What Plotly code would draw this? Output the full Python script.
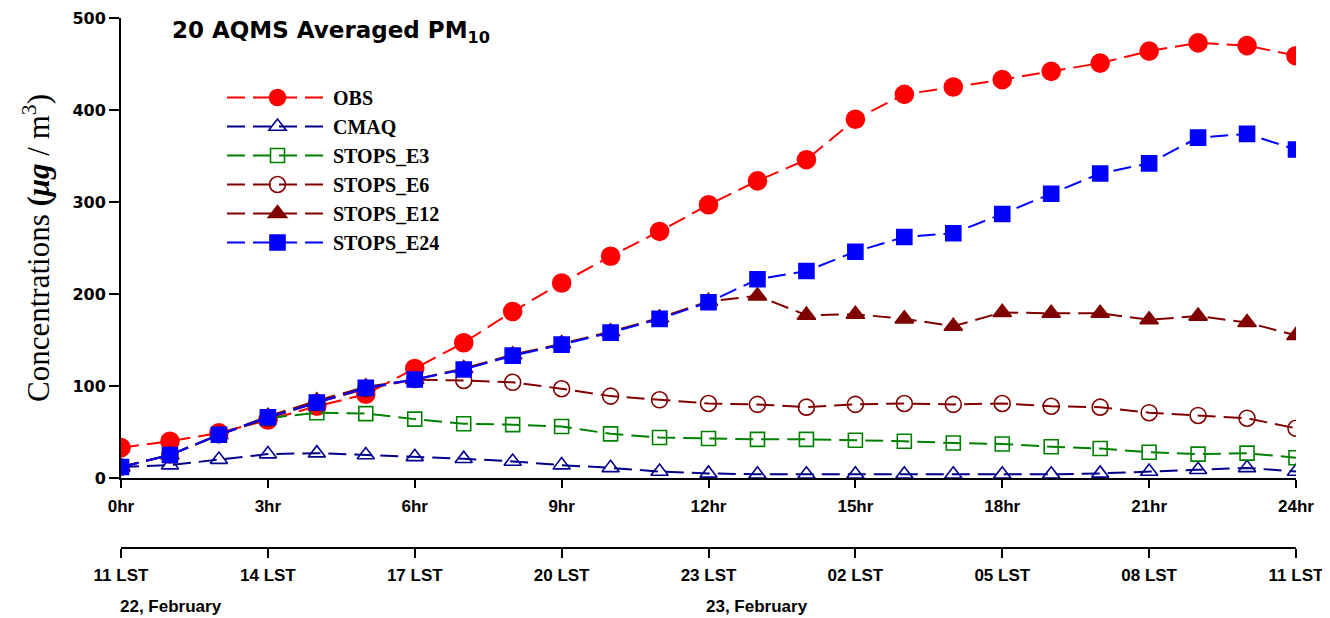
import plotly.graph_objects as go

hours = list(range(25))
obs = [33, 40, 49, 63, 78, 91, 119, 147, 181, 212, 241, 268, 297, 323, 346, 390, 417, 425, 433, 442, 451, 464, 473, 470, 459]
cmaq = [12, 14, 20, 26, 27, 25, 23, 21, 18, 14, 11, 7, 5, 4, 4, 4, 4, 4, 4, 4, 5, 7, 9, 11, 7]
e3 = [12, 25, 47, 65, 71, 70, 64, 59, 58, 56, 48, 44, 43, 42, 42, 41, 40, 38, 37, 34, 32, 28, 26, 27, 22]
e6 = [12, 25, 47, 65, 82, 97, 107, 106, 104, 97, 89, 85, 81, 80, 77, 80, 81, 80, 81, 78, 77, 71, 68, 65, 54]
e12 = [12, 25, 47, 67, 84, 99, 107, 119, 134, 146, 159, 174, 192, 198, 177, 178, 173, 165, 180, 179, 179, 172, 176, 169, 155]
e24 = [12, 25, 47, 66, 82, 98, 107, 118, 133, 145, 158, 173, 191, 216, 225, 246, 262, 266, 287, 309, 331, 342, 370, 374, 357]

hr_ticks = [0, 3, 6, 9, 12, 15, 18, 21, 24]
hr_labels = ["0hr", "3hr", "6hr", "9hr", "12hr", "15hr", "18hr", "21hr", "24hr"]
lst_labels = ["11 LST", "14 LST", "17 LST", "20 LST", "23 LST", "02 LST", "05 LST", "08 LST", "11 LST"]
y_ticks = [0, 100, 200, 300, 400, 500]

series = [
    ("OBS", obs, "#FF0000", "circle", 18),
    ("CMAQ", cmaq, "#00008B", "triangle-up-open", 15),
    ("STOPS_E3", e3, "#008000", "square-open", 14),
    ("STOPS_E6", e6, "#800000", "circle-open", 16),
    ("STOPS_E12", e12, "#800000", "triangle-up", 16),
    ("STOPS_E24", e24, "#0000FF", "square", 15),
]

fig = go.Figure()
for name, vals, col, sym, size in series:
    fig.add_trace(go.Scatter(
        x=hours, y=vals, name=name, mode="lines+markers",
        line=dict(color=col, width=2, dash="18px,8px"),
        marker=dict(symbol=sym, size=size, color=col,
                    line=dict(color=col, width=1.6)),
    ))

# invisible trace on the secondary (LST) axis
fig.add_trace(go.Scatter(x=hours, y=obs, xaxis="x2", yaxis="y", mode="lines",
                         line=dict(width=0), opacity=0, showlegend=False,
                         hoverinfo="skip"))

sans = "Liberation Sans, Arial, sans-serif"
serif = "Liberation Serif, Times New Roman, serif"

OFF = 8  # page offset of the figure in the browser
W, H = 1322, 610
L, R, T, B = 121 - OFF, 34, 18 - OFF, 10
pw = W - L - R
ph = H - T - B


def px_x(v):
    return (v - OFF - L) / pw


def px_y(v):
    return (H - B - (v - OFF)) / ph


fig.update_layout(
    width=W, height=H,
    margin=dict(l=L, r=R, t=T, b=B, autoexpand=False),
    paper_bgcolor="white", plot_bgcolor="white",
    showlegend=True,
    legend=dict(x=px_x(222), y=px_y(78), xanchor="left", yanchor="top",
                font=dict(family=serif, size=20, color="black", weight="bold"),
                bgcolor="rgba(0,0,0,0)", itemwidth=101, tracegroupgap=0),
    xaxis=dict(range=[0, 24], tickvals=hr_ticks, ticktext=hr_labels,
               showline=True, linecolor="black", linewidth=2,
               ticks="outside", ticklen=8, tickwidth=2, tickcolor="black",
               showgrid=False, zeroline=False, anchor="y", automargin=False,
               tickfont=dict(family=sans, size=17, color="black", weight="bold"),
               ticklabelstandoff=4),
    xaxis2=dict(range=[0, 24], tickvals=hr_ticks, ticktext=lst_labels,
                overlaying="x", anchor="free", position=px_y(548), side="bottom",
                showline=True, linecolor="black", linewidth=2,
                ticks="outside", ticklen=9, tickwidth=2, tickcolor="black",
                showgrid=False, zeroline=False, automargin=False,
                tickfont=dict(family=sans, size=17, color="black", weight="bold"),
                ticklabelstandoff=3),
    yaxis=dict(range=[0, 500], tickvals=y_ticks, domain=[px_y(478), 1],
               showline=True, linecolor="black", linewidth=2,
               ticks="outside", ticklen=10, tickwidth=2, tickcolor="black",
               showgrid=False, zeroline=False, automargin=False,
               tickfont=dict(family="DejaVu Sans, sans-serif", size=16, color="black", weight="bold"),
               title=dict(text="Concentrations <b>(<i>μg</i></b> / m<sup>3</sup>)",
                          font=dict(family=serif, size=31, color="black"),
                          standoff=14)),
    annotations=[
        dict(text="<b>20 AQMS Averaged PM<sub>10</sub></b>", xref="paper", yref="paper",
             x=px_x(170), y=px_y(32), xanchor="left", yanchor="middle", showarrow=False,
             font=dict(family="DejaVu Sans, sans-serif", size=23, color="black")),
        dict(text="<b>22, February</b>", xref="paper", yref="paper",
             x=px_x(118), y=px_y(606), xanchor="left", yanchor="middle", showarrow=False,
             font=dict(family=sans, size=17, color="black")),
        dict(text="<b>23, February</b>", xref="paper", yref="paper",
             x=px_x(704), y=px_y(606), xanchor="left", yanchor="middle",
             showarrow=False, font=dict(family=sans, size=17, color="black")),
    ],
)

fig.write_html("out.html")
